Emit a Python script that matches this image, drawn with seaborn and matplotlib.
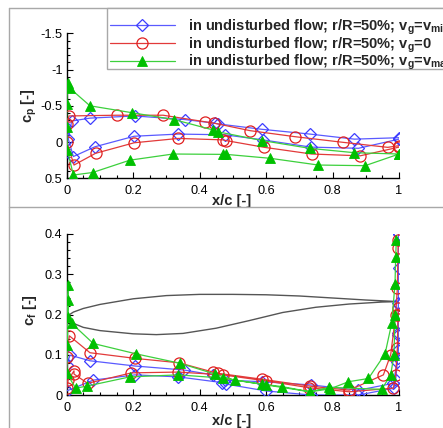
import numpy as np
import pandas as pd
import matplotlib
matplotlib.use("Agg")
import matplotlib.pyplot as plt
from matplotlib.lines import Line2D
from matplotlib.patches import Rectangle
from matplotlib.ticker import MultipleLocator, FixedLocator, FixedFormatter
import seaborn as sns

sns.set_style("white")
plt.rcParams['font.family'] = ['Liberation Sans', 'DejaVu Sans']
plt.rcParams['mathtext.fontset'] = 'custom'
plt.rcParams['mathtext.bf'] = 'Liberation Sans:bold'
plt.rcParams['mathtext.rm'] = 'Liberation Sans:bold'
plt.rcParams['mathtext.it'] = 'Liberation Sans:bold'
plt.rcParams['mathtext.default'] = 'bf'

# ---------------- data ----------------
legend_labels = [
    r"in undisturbed flow; r/R=50%; v$_g$=v$_{min}$",
    r"in undisturbed flow; r/R=50%; v$_g$=0",
    r"in undisturbed flow; r/R=50%; v$_g$=v$_{max}$",
]

# pressure coefficient, path: upper TE -> LE -> lower TE
cp_min_x = [1.0, 0.866, 0.732, 0.587, 0.456, 0.446, 0.356, 0.205, 0.07, 0.015, 0.005,
            0.02, 0.085, 0.203, 0.336, 0.476, 0.59, 0.735, 0.878, 1.0]
cp_min_y = [-0.06, -0.04, -0.11, -0.176, -0.25, -0.26, -0.31, -0.36, -0.33, -0.29, -0.04,
            0.20, 0.065, -0.08, -0.11, -0.10, -0.03, 0.07, 0.086, -0.04]

cp_0_x = [1.0, 0.966, 0.83, 0.687, 0.552, 0.444, 0.416, 0.29, 0.15, 0.007, 0.0, 0.0,
          0.022, 0.087, 0.203, 0.336, 0.47, 0.48, 0.595, 0.737, 0.883, 1.0]
cp_0_y = [0.05, 0.073, 0.003, -0.074, -0.157, -0.26, -0.28, -0.37, -0.37, -0.36, -0.25, 0.0,
          0.317, 0.155, 0.01, -0.05, -0.03, -0.02, 0.073, 0.165, 0.19, 0.07]

cp_max_x = [1.0, 0.866, 0.732, 0.589, 0.456, 0.441, 0.323, 0.196, 0.07, 0.01, 0.003,
            0.0, 0.0, 0.002, 0.02, 0.078, 0.19, 0.32, 0.47, 0.48, 0.612, 0.757, 0.898, 1.0]
cp_max_y = [0.165, 0.147, 0.087, -0.02, -0.14, -0.166, -0.31, -0.405, -0.5, -0.74, -0.82,
            -0.53, -0.21, 0.11, 0.455, 0.42, 0.25, 0.165, 0.17, 0.17, 0.224, 0.317, 0.326, 0.165]

# skin friction coefficient, path: upper TE -> LE -> lower TE
cf_min_x = [1.0, 0.999, 0.998, 0.997, 0.996, 0.983, 0.878, 0.735, 0.589, 0.476, 0.44, 0.354,
            0.206, 0.07, 0.01, 0.0, 0.0, 0.08, 0.206, 0.336, 0.466, 0.48, 0.6, 0.735, 0.878,
            0.985, 0.99, 0.995, 0.997, 0.998, 0.999, 1.0]
cf_min_y = [0.40, 0.315, 0.229, 0.153, 0.091, 0.029, 0.012, 0.025, 0.033, 0.037, 0.05, 0.062,
            0.072, 0.085, 0.099, 0.075, 0.01, 0.037, 0.05, 0.045, 0.031, 0.027, 0.01, 0.0, 0.0,
            0.017, 0.037, 0.083, 0.112, 0.149, 0.224, 0.40]

cf_0_x = [0.998, 0.997, 0.995, 0.99, 0.975, 0.953, 0.85, 0.732, 0.589, 0.455, 0.44, 0.338,
          0.206, 0.07, 0.008, 0.0, 0.0, 0.004, 0.022, 0.022, 0.063, 0.195, 0.336, 0.47,
          0.6, 0.73, 0.85, 0.983, 0.99, 0.995, 0.997, 0.998]
cf_0_y = [0.385, 0.364, 0.265, 0.2, 0.1, 0.05, 0.012, 0.022, 0.039, 0.054, 0.057, 0.08,
          0.091, 0.105, 0.147, 0.095, 0.017, 0.037, 0.06, 0.052, 0.029, 0.055, 0.057, 0.05,
          0.035, 0.018, 0.008, 0.017, 0.05, 0.116, 0.2, 0.215]

cf_max_x = [0.992, 0.990, 0.988, 0.978, 0.958, 0.908, 0.848, 0.792, 0.732, 0.647, 0.587,
            0.505, 0.446, 0.34, 0.21, 0.08, 0.015, 0.003, 0.005, 0.004, 0.002, 0.0,
            0.027, 0.06, 0.19, 0.336, 0.47, 0.6, 0.732, 0.79, 0.948, 0.975, 0.985, 0.988]
cf_max_y = [0.385, 0.344, 0.276, 0.178, 0.102, 0.041, 0.033, 0.015, 0.008, 0.021, 0.027,
            0.037, 0.052, 0.079, 0.102, 0.128, 0.178, 0.195, 0.273, 0.236, 0.124, 0.054,
            0.017, 0.022, 0.045, 0.05, 0.042, 0.025, 0.008, 0.019, 0.014, 0.05, 0.1, 0.2]

# airfoil outline (upper and lower), drawn in cf panel
foil_x = [0.0, 0.02, 0.05, 0.1, 0.2, 0.3, 0.4, 0.5, 0.6, 0.7, 0.8, 0.9, 1.0,
          0.95, 0.85, 0.75, 0.65, 0.55, 0.45, 0.35, 0.27, 0.2, 0.1, 0.05, 0.02, 0.0]
foil_y = [0.195, 0.206, 0.215, 0.225, 0.239, 0.247, 0.25, 0.25, 0.249, 0.246, 0.241, 0.236, 0.232,
          0.231, 0.226, 0.218, 0.205, 0.185, 0.166, 0.153, 0.15, 0.152, 0.16, 0.168, 0.178, 0.195]

x_ticks = [0, 0.2, 0.4, 0.6, 0.8, 1.0]
x_ticklabels = ["0", "0.2", "0.4", "0.6", "0.8", "1"]
cp_ticks = [-1.5, -1.0, -0.5, 0.0, 0.5]
cp_ticklabels = ["-1.5", "-1", "-0.5", "0", "0.5"]
cf_ticks = [0.0, 0.1, 0.2, 0.3, 0.4]
cf_ticklabels = ["0", "0.1", "0.2", "0.3", "0.4"]

# ---------------- styles ----------------
W, H = 443, 428
fig = plt.figure(figsize=(W / 100, H / 100), dpi=100)

BLUE_L, BLUE_M = "#5a5aff", "#3c3cff"
RED_L, RED_M = "#e23a3a", "#e02020"
GRN_L, GRN_M = "#3cd03c", "#00c000"

styles = [
    dict(color=BLUE_L, marker="D", markersize=6, markerfacecolor="none",
         markeredgecolor=BLUE_M, markeredgewidth=0.9),
    dict(color=RED_L, marker="o", markersize=8, markerfacecolor="none",
         markeredgecolor=RED_M, markeredgewidth=0.9),
    dict(color=GRN_L, marker="^", markersize=7, markerfacecolor=GRN_M,
         markeredgecolor=GRN_M, markeredgewidth=0.6),
]

def fax(l, b, r, t):
    return fig.add_axes([l / W, 1 - b / H, (r - l) / W, (b - t) / H])

x0, x1 = 66.7, 399.0
ax1 = fax(x0, 178.3, x1, 33.3)
ax2 = fax(x0, 395.0, x1, 234.0)

def line(ax, x, y, st, lw=0.9, zorder=3):
    df = pd.DataFrame({"x": x, "y": y})
    sns.lineplot(data=df, x="x", y="y", sort=False, estimator=None, ax=ax,
                 linewidth=lw, zorder=zorder, **st)

for (x, y), st in zip([(cp_min_x, cp_min_y), (cp_0_x, cp_0_y), (cp_max_x, cp_max_y)], styles):
    line(ax1, x, y, st)

df_f = pd.DataFrame({"x": foil_x, "y": foil_y})
sns.lineplot(data=df_f, x="x", y="y", sort=False, estimator=None, ax=ax2,
             color="#555555", linewidth=1.0, zorder=2)
for (x, y), st in zip([(cf_min_x, cf_min_y), (cf_0_x, cf_0_y), (cf_max_x, cf_max_y)], styles):
    line(ax2, x, y, st)

def style_axes(ax, yt, ytl, ylim, ylabel, ylab_y, xlab_y):
    ax.set_xlim(0, 1)
    ax.set_ylim(*ylim)
    for s in ["top", "right"]:
        ax.spines[s].set_visible(False)
    for s in ["left", "bottom"]:
        ax.spines[s].set_color("black")
        ax.spines[s].set_linewidth(1.0)
    ax.xaxis.set_major_locator(FixedLocator(x_ticks))
    ax.xaxis.set_major_formatter(FixedFormatter(x_ticklabels))
    ax.xaxis.set_minor_locator(MultipleLocator(0.05))
    ax.yaxis.set_major_locator(FixedLocator(yt))
    ax.yaxis.set_major_formatter(FixedFormatter(ytl))
    ax.tick_params(which="both", direction="in", color="black", width=0.8,
                   labelsize=9.2, labelcolor="black", bottom=True, left=True)
    ax.tick_params(which="major", length=4.5)
    ax.tick_params(which="minor", length=2.5)
    ax.tick_params(axis="x", pad=5)
    ax.tick_params(axis="y", pad=3)
    ax.set_xlabel("x/c [-]", fontsize=10.5, fontweight="bold")
    ax.set_ylabel(ylabel, fontsize=10.5, fontweight="bold")
    ax.xaxis.set_label_coords(0.497, xlab_y)
    ax.yaxis.set_label_coords(-0.082, ylab_y)
    ax.patch.set_visible(False)

style_axes(ax1, cp_ticks, cp_ticklabels, (0.5, -1.5), r"c$_p$ [-]", 0.5, -0.105)
ax1.yaxis.set_minor_locator(MultipleLocator(0.1))
style_axes(ax2, cf_ticks, cf_ticklabels, (0.0, 0.4), r"c$_f$ [-]", 0.53, -0.115)
ax2.yaxis.set_minor_locator(MultipleLocator(0.02))

# panel frame lines
gray = "#a8a8a8"
fig.add_artist(Line2D([9.3 / W, 9.3 / W], [0, 1 - 8 / H], color=gray, lw=1.0))
fig.add_artist(Line2D([9.3 / W, 1], [1 - 8 / H, 1 - 8 / H], color=gray, lw=1.0))
fig.add_artist(Line2D([9.3 / W, 1], [1 - 206.7 / H, 1 - 206.7 / H], color=gray, lw=1.0))

# legend box (extends past the right edge like the reference)
fig.add_artist(Rectangle((107 / W, 1 - 69.3 / H), 400 / W, 61.3 / H,
                         transform=fig.transFigure, facecolor="white",
                         edgecolor=gray, linewidth=1.0, zorder=5))
handles = [Line2D([], [], linewidth=0.9, **st) for st in styles]
leg = fig.legend(handles, legend_labels, loc="upper left",
                 bbox_to_anchor=(110 / W, 1 - 17.5 / H), borderaxespad=0,
                 frameon=False, prop={"weight": "bold", "size": 10.5},
                 handlelength=4.45, handletextpad=0.9, borderpad=0,
                 labelspacing=-0.1)
leg.set_zorder(6)

fig.savefig("out.png", dpi=100)
